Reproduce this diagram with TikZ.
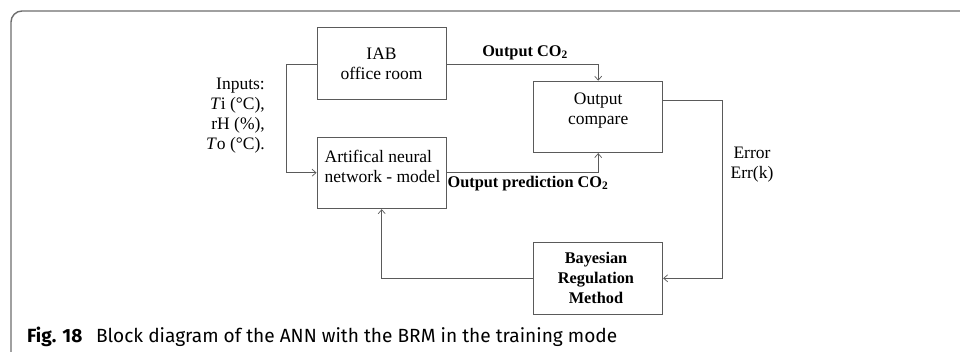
\documentclass[tikz,border=0pt]{standalone}
\usepackage{fontspec}
\setmainfont{Liberation Serif}
\newfontfamily\capfont{Fira Sans}
\usetikzlibrary{arrows.meta}
\definecolor{linec}{HTML}{5A5A5A}
\definecolor{framec}{HTML}{6E6E6E}
\begin{document}
\begin{tikzpicture}[x=1pt,y=-1pt,
  blockbox/.style={draw=linec,line width=0.9pt,minimum width=129pt,minimum height=71.5pt,inner sep=0pt},
  txt/.style={font=\fontsize{17.5}{20}\selectfont,inner sep=0pt,align=center},
  btxt/.style={font=\fontsize{16.3}{20}\selectfont\bfseries,inner sep=0pt,align=center},
  conn/.style={draw=linec,line width=0.8pt},
  arr/.style={conn,-{Straight Barb[length=4pt,width=7pt,line width=0.7pt]}}]
\useasboundingbox (0,0) rectangle (960,352);
\fill[white] (0,0) rectangle (960,352);
% frame
\begin{scope}
\clip (0,0) rectangle (960,352);
\draw[framec,line width=1.4pt,rounded corners=11pt] (11,11) rectangle (1000,400);
\end{scope}
% boxes
\node[blockbox] (iab) at (381.5,63.5) {};
\node[blockbox] (ann) at (381.5,173) {};
\node[blockbox] (cmp) at (598.2,116.9) {};
\node[blockbox] (brm) at (598.2,278.2) {};
% box texts
\node[txt] (iabt) at (381.5,64) {IAB\\office room};
\node[txt,align=left,anchor=west] (annt) at (324.5,166.5) {Artifical neural\\network - model};
\node[txt] (cmpt) at (598.2,111) {Output\\compare};
\node[btxt] (brmt) at (596,278) {Bayesian\\Regulation\\Method};
% labels
\node[txt,align=right,anchor=east] (inp) at (265,116) {Inputs:\\\textit{T}i (°C),\\rH (\%),\\\textit{T}o (°C).};
\node[btxt] (oco) at (525,52.7) {Output CO\textsubscript{2}};
\node[btxt] (opc) at (528,183.3) {Output prediction CO\textsubscript{2}};
\node[txt] (err) at (752,165) {Error\\Err(k)};
% connectors
\coordinate (split) at (286,64.3);
\draw[conn] (split) -- (iab.west |- split);
\draw[arr] (split) -- (286,172.7) -- (ann.west |- 0,172.7);
\draw[arr] (iab.east |- 0,64.3) -- (cmp.north |- 0,64.3) -- (cmp.north);
\draw[arr] (ann.east |- 0,172.7) -- (cmp.south |- 0,172.7) -- (cmp.south);
\draw[arr] (cmp.east |- 0,100) -- (722.3,100) -- (722.3,278.3) -- (brm.east |- 0,278.3);
\draw[arr] (brm.west |- 0,278.3) -- (381.7,278.3) -- (381.7,0 |- ann.south);
% caption
\node[anchor=west,inner sep=0pt] (cap) at (27,336.7) {\resizebox{590pt}{!}{\capfont\fontsize{18}{18}\selectfont\textbf{Fig. 18}\hspace{0.45em} Block diagram of the ANN with the BRM in the training mode}};
\end{tikzpicture}
\end{document}
